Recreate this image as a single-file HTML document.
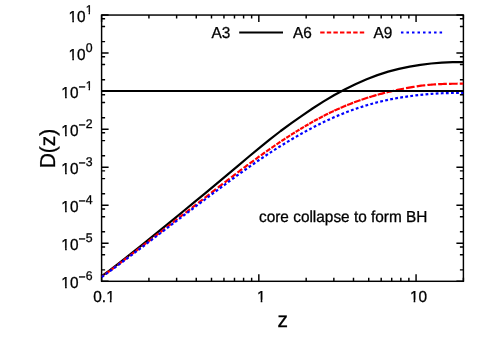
<!DOCTYPE html>
<html><head><meta charset="utf-8"><title>D(z)</title>
<style>html,body{margin:0;padding:0;background:#fff;}svg{display:block;will-change:transform;}text{text-rendering:geometricPrecision;font-kerning:none;font-family:"Liberation Sans",sans-serif;fill:#000;stroke:#000;stroke-width:0.3px;}</style>
</head><body>
<svg width="491" height="343" viewBox="0 0 491 343">
<rect x="0" y="0" width="491" height="343" fill="#fff"/>
<defs><clipPath id="c"><rect x="101.6" y="15.05" width="361.79999999999995" height="266.25"/></clipPath></defs>
<path d="M101.6,281.30h7.0M463.4,281.30h-7.0M101.6,269.85h3.5M463.4,269.85h-3.5M101.6,254.71h3.5M463.4,254.71h-3.5M101.6,246.95h3.5M463.4,246.95h-3.5M101.6,243.26h7.0M463.4,243.26h-7.0M101.6,231.81h3.5M463.4,231.81h-3.5M101.6,216.68h3.5M463.4,216.68h-3.5M101.6,208.91h3.5M463.4,208.91h-3.5M101.6,205.23h7.0M463.4,205.23h-7.0M101.6,193.78h3.5M463.4,193.78h-3.5M101.6,178.64h3.5M463.4,178.64h-3.5M101.6,170.88h3.5M463.4,170.88h-3.5M101.6,167.19h7.0M463.4,167.19h-7.0M101.6,155.74h3.5M463.4,155.74h-3.5M101.6,140.61h3.5M463.4,140.61h-3.5M101.6,132.84h3.5M463.4,132.84h-3.5M101.6,129.16h7.0M463.4,129.16h-7.0M101.6,117.71h3.5M463.4,117.71h-3.5M101.6,102.57h3.5M463.4,102.57h-3.5M101.6,94.81h3.5M463.4,94.81h-3.5M101.6,91.12h7.0M463.4,91.12h-7.0M101.6,79.67h3.5M463.4,79.67h-3.5M101.6,64.54h3.5M463.4,64.54h-3.5M101.6,56.77h3.5M463.4,56.77h-3.5M101.6,53.09h7.0M463.4,53.09h-7.0M101.6,41.64h3.5M463.4,41.64h-3.5M101.6,26.50h3.5M463.4,26.50h-3.5M101.6,18.74h3.5M463.4,18.74h-3.5M101.6,15.05h7.0M463.4,15.05h-7.0M101.60,281.3v-7.0M101.60,15.05v7.0M148.93,281.3v-3.5M148.93,15.05v3.5M176.62,281.3v-3.5M176.62,15.05v3.5M196.26,281.3v-3.5M196.26,15.05v3.5M211.50,281.3v-3.5M211.50,15.05v3.5M223.95,281.3v-3.5M223.95,15.05v3.5M234.48,281.3v-3.5M234.48,15.05v3.5M243.60,281.3v-3.5M243.60,15.05v3.5M251.64,281.3v-3.5M251.64,15.05v3.5M258.83,281.3v-7.0M258.83,15.05v7.0M306.17,281.3v-3.5M306.17,15.05v3.5M333.85,281.3v-3.5M333.85,15.05v3.5M353.50,281.3v-3.5M353.50,15.05v3.5M368.74,281.3v-3.5M368.74,15.05v3.5M381.19,281.3v-3.5M381.19,15.05v3.5M391.71,281.3v-3.5M391.71,15.05v3.5M400.83,281.3v-3.5M400.83,15.05v3.5M408.87,281.3v-3.5M408.87,15.05v3.5M416.07,281.3v-7.0M416.07,15.05v7.0M463.40,281.3v-3.5M463.40,15.05v3.5" stroke="#000" stroke-width="1.45" fill="none"/>
<rect x="101.6" y="15.05" width="361.80" height="266.25" fill="none" stroke="#000" stroke-width="1.45"/>
<text transform="translate(92.50,288.20) scale(0.97,1)" font-size="15.86" text-anchor="end">10<tspan font-size="12.67" dy="-6.9">−</tspan><tspan font-size="12.67" dy="-1.1">6</tspan></text>
<rect x="61.43" y="285.96" width="3.67" height="3.49" fill="#fff"/><rect x="66.75" y="285.96" width="3.55" height="3.49" fill="#fff"/>
<text transform="translate(92.50,250.16) scale(0.97,1)" font-size="15.86" text-anchor="end">10<tspan font-size="12.67" dy="-6.9">−</tspan><tspan font-size="12.67" dy="-1.1">5</tspan></text>
<rect x="61.43" y="247.93" width="3.67" height="3.49" fill="#fff"/><rect x="66.75" y="247.93" width="3.55" height="3.49" fill="#fff"/>
<text transform="translate(92.50,212.13) scale(0.97,1)" font-size="15.86" text-anchor="end">10<tspan font-size="12.67" dy="-6.9">−</tspan><tspan font-size="12.67" dy="-1.1">4</tspan></text>
<rect x="61.43" y="209.89" width="3.67" height="3.49" fill="#fff"/><rect x="66.75" y="209.89" width="3.55" height="3.49" fill="#fff"/>
<text transform="translate(92.50,174.09) scale(0.97,1)" font-size="15.86" text-anchor="end">10<tspan font-size="12.67" dy="-6.9">−</tspan><tspan font-size="12.67" dy="-1.1">3</tspan></text>
<rect x="61.43" y="171.86" width="3.67" height="3.49" fill="#fff"/><rect x="66.75" y="171.86" width="3.55" height="3.49" fill="#fff"/>
<text transform="translate(92.50,136.06) scale(0.97,1)" font-size="15.86" text-anchor="end">10<tspan font-size="12.67" dy="-6.9">−</tspan><tspan font-size="12.67" dy="-1.1">2</tspan></text>
<rect x="61.43" y="133.82" width="3.67" height="3.49" fill="#fff"/><rect x="66.75" y="133.82" width="3.55" height="3.49" fill="#fff"/>
<text transform="translate(92.50,98.02) scale(0.97,1)" font-size="15.86" text-anchor="end">10<tspan font-size="12.67" dy="-6.9">−</tspan><tspan font-size="12.67" dy="-1.1">1</tspan></text>
<rect x="61.43" y="95.79" width="3.67" height="3.49" fill="#fff"/><rect x="66.75" y="95.79" width="3.55" height="3.49" fill="#fff"/>
<rect x="85.49" y="88.02" width="3.12" height="3.25" fill="#fff"/><rect x="89.99" y="88.02" width="3.03" height="3.25" fill="#fff"/>
<text transform="translate(92.50,59.99) scale(0.97,1)" font-size="15.86" text-anchor="end">10<tspan font-size="12.67" dy="-8.0">0</tspan></text>
<rect x="68.61" y="57.75" width="3.67" height="3.49" fill="#fff"/><rect x="73.93" y="57.75" width="3.55" height="3.49" fill="#fff"/>
<text transform="translate(92.50,21.95) scale(0.97,1)" font-size="15.86" text-anchor="end">10<tspan font-size="12.67" dy="-8.0">1</tspan></text>
<rect x="68.61" y="19.71" width="3.67" height="3.49" fill="#fff"/><rect x="73.93" y="19.71" width="3.55" height="3.49" fill="#fff"/>
<rect x="85.49" y="11.95" width="3.12" height="3.25" fill="#fff"/><rect x="89.99" y="11.95" width="3.03" height="3.25" fill="#fff"/>
<text transform="translate(104.00,302.00) scale(0.97,1)" font-size="15.86" text-anchor="middle">0.1</text>
<rect x="106.19" y="299.76" width="3.67" height="3.49" fill="#fff"/><rect x="111.51" y="299.76" width="3.55" height="3.49" fill="#fff"/>
<text transform="translate(261.23,302.00) scale(0.97,1)" font-size="15.86" text-anchor="middle">1</text>
<rect x="257.01" y="299.76" width="3.67" height="3.49" fill="#fff"/><rect x="262.33" y="299.76" width="3.55" height="3.49" fill="#fff"/>
<text transform="translate(418.47,302.00) scale(0.97,1)" font-size="15.86" text-anchor="middle">10</text>
<rect x="409.97" y="299.76" width="3.67" height="3.49" fill="#fff"/><rect x="415.29" y="299.76" width="3.55" height="3.49" fill="#fff"/>
<text transform="translate(282.80,327.20) scale(0.97,1)" font-size="21.63" text-anchor="middle">z</text>
<text transform="translate(54.6,148.5) rotate(-90) scale(0.97,1)" text-anchor="middle" font-size="21.63">D(z)</text>
<text transform="translate(259.00,222.20) scale(0.97,1)" font-size="15.86" text-anchor="start">core collapse to form BH</text>
<text transform="translate(211.50,37.80) scale(0.97,1)" font-size="15.86" text-anchor="start">A3</text>
<path d="M239.2,32.5H283" stroke="#000" stroke-width="2.2" fill="none"/>
<text transform="translate(292.90,37.80) scale(0.97,1)" font-size="15.86" text-anchor="start">A6</text>
<path d="M320.2,32.5H364.5" stroke="#f00" stroke-width="2.2" stroke-dasharray="4.4,2.2" fill="none"/>
<text transform="translate(373.40,37.80) scale(0.97,1)" font-size="15.86" text-anchor="start">A9</text>
<path d="M400.95,32.5H442.2" stroke="#00f" stroke-width="2.2" stroke-dasharray="2.5,3.02" fill="none"/>
<g clip-path="url(#c)" fill="none" stroke-linejoin="round">
<path d="M101.60,276.17 L108.65,271.06 L119.40,262.91 L130.15,254.45 L140.90,245.83 L151.65,237.10 L162.40,228.31 L173.15,219.53 L183.90,210.75 L194.65,201.93 L205.40,193.08 L216.15,184.16 L226.90,175.14 L237.65,166.07 L248.40,157.00 L259.15,148.04 L269.90,139.31 L280.65,131.00 L291.40,123.08 L302.15,115.54 L312.90,108.24 L323.65,101.39 L334.40,95.04 L345.15,89.23 L355.90,83.94 L366.65,79.22 L377.40,75.11 L388.15,71.65 L398.90,68.82 L409.65,66.55 L420.40,64.79 L431.15,63.49 L441.90,62.63 L452.65,62.22 L463.40,62.22" stroke="#000" stroke-width="2.2"/>
<path d="M101.60,276.85L101.84,276.67L103.29,275.61L103.83,275.22M105.46,274.03L105.46,274.02L106.91,272.96L108.36,271.90L109.81,270.82L109.90,270.75M111.53,269.53L111.74,269.37L113.19,268.29L114.63,267.20L115.96,266.20M117.60,264.98L117.77,264.85L119.22,263.76L120.67,262.65L122.03,261.61M123.66,260.36L123.81,260.25L125.25,259.15L126.70,258.04L128.10,256.97M129.74,255.71L129.84,255.64L131.29,254.53L132.74,253.42L134.18,252.31L134.19,252.31M135.84,251.04L135.87,251.02L137.32,249.91L138.77,248.80L140.22,247.69L140.31,247.62M141.97,246.35L142.15,246.21L143.60,245.09L145.04,243.98L146.44,242.91M148.11,241.62L148.18,241.57L149.63,240.45L151.08,239.34L152.53,238.22L152.60,238.16M154.27,236.86L154.46,236.72L155.91,235.59L157.35,234.47L158.76,233.38M160.45,232.07L160.49,232.03L161.94,230.91L163.39,229.78L164.84,228.65L164.95,228.57M166.65,227.25L166.77,227.15L168.22,226.03L169.66,224.90L171.11,223.78L171.16,223.74M172.87,222.41L173.04,222.28L174.49,221.16L175.94,220.05L177.39,218.94L177.42,218.91M179.15,217.58L179.32,217.45L180.77,216.34L182.21,215.23L183.66,214.11L183.71,214.08M185.45,212.74L185.59,212.63L187.04,211.52L188.49,210.40L189.94,209.29L190.04,209.22M191.78,207.88L191.87,207.81L193.32,206.70L194.77,205.58L196.21,204.46L196.41,204.31M198.15,202.96L198.39,202.78L199.83,201.65L201.28,200.53L202.73,199.41L202.87,199.30M204.61,197.95L204.66,197.91L206.11,196.79L207.56,195.66L209.01,194.53L209.43,194.20M211.17,192.85L211.18,192.84L212.63,191.71L214.07,190.59L215.52,189.46L216.09,189.02M217.83,187.67L217.94,187.59L219.38,186.47L220.83,185.35L222.28,184.24L222.91,183.75M224.58,182.46L224.69,182.37L226.14,181.26L227.59,180.14L229.04,179.04L229.56,178.64M231.16,177.42L231.21,177.38L232.66,176.28L234.11,175.17L235.56,174.07L235.98,173.74M237.51,172.58L237.73,172.41L239.18,171.33L240.62,170.24L242.07,169.16L242.19,169.07M243.65,167.98L243.76,167.89L245.21,166.81L246.66,165.72L248.11,164.64L248.17,164.59M249.57,163.56L249.80,163.40L251.24,162.34L252.69,161.28L253.98,160.34M255.31,159.37L255.35,159.34L256.80,158.28L258.24,157.22L259.57,156.26M260.85,155.35L260.90,155.32L262.35,154.29L263.79,153.26L265.00,152.41M266.21,151.55L266.45,151.38L267.90,150.35L269.35,149.32L270.23,148.70M271.39,147.91L271.52,147.83L272.97,146.84L274.41,145.85L275.39,145.18M276.47,144.44L276.59,144.36L278.03,143.38L279.48,142.39L280.40,141.76M281.42,141.09L281.66,140.93L283.10,139.99L284.55,139.05L285.33,138.54M286.30,137.91L286.48,137.79L287.93,136.84L289.38,135.90L290.14,135.40M291.03,134.82L291.07,134.80L292.52,133.89L293.96,132.99L294.86,132.44M295.70,131.92L295.90,131.80L297.34,130.90L298.79,130.01L299.46,129.59M300.24,129.11L300.24,129.11L301.69,128.22L303.14,127.36L303.94,126.89M304.72,126.44L304.83,126.37L306.27,125.53L307.72,124.69L308.50,124.24M309.28,123.78L309.41,123.71L310.86,122.87L312.31,122.02L313.15,121.54M313.94,121.12L314.00,121.09L315.45,120.31L316.89,119.53L317.96,118.95M318.75,118.52L318.82,118.49L320.27,117.71L321.72,116.92L322.86,116.31M323.65,115.88L323.89,115.77L325.34,115.06L326.79,114.35L328.09,113.71M328.90,113.31L328.96,113.28L330.41,112.58L331.86,111.87L333.31,111.16L333.70,110.97M334.51,110.58L334.51,110.57L335.96,109.93L337.41,109.29L338.86,108.66L339.78,108.25M340.60,107.88L340.79,107.80L342.24,107.16L343.68,106.53L345.13,105.89L346.27,105.44M347.13,105.11L347.31,105.04L348.75,104.48L350.20,103.91L351.65,103.35L353.10,102.78L353.20,102.74M354.08,102.40L354.30,102.31L355.75,101.75L357.20,101.24L358.65,100.75L360.10,100.25L360.55,100.10M361.46,99.78L361.55,99.75L362.99,99.26L364.44,98.76L365.89,98.26L367.34,97.79L368.34,97.49M369.29,97.21L369.51,97.14L370.96,96.71L372.41,96.27L373.86,95.84L375.30,95.40L376.52,95.03M377.67,94.70L377.72,94.69L379.17,94.31L380.61,93.93L382.06,93.56L383.51,93.18L384.96,92.80L385.11,92.76M386.56,92.38L386.65,92.36L388.10,91.98L389.54,91.66L390.99,91.34L392.44,91.02L393.89,90.70L394.09,90.66M395.89,90.25L396.06,90.22L397.51,89.90L398.96,89.58L400.40,89.30L401.85,89.02L403.30,88.75L403.98,88.62M406.04,88.22L406.20,88.19L407.65,87.92L409.09,87.64L410.54,87.39L411.99,87.15L413.44,86.91L414.61,86.72M416.68,86.38L416.82,86.35L418.27,86.12L419.71,85.88L421.16,85.68L422.61,85.53L424.06,85.38L425.30,85.25M427.39,85.03L427.44,85.02L428.89,84.87L430.33,84.72L431.78,84.59L433.23,84.51L434.68,84.43L436.06,84.35M438.16,84.23L438.30,84.22L439.75,84.14L441.19,84.06L442.64,84.00L444.09,83.96L445.54,83.93L446.85,83.90M448.95,83.84L449.16,83.84L450.61,83.80L452.06,83.76L453.50,83.75L454.95,83.74L456.40,83.73L457.65,83.72M459.75,83.71L459.78,83.71L461.23,83.70L462.68,83.69L463.40,83.69" stroke="#f00" stroke-width="2.2"/>
<path d="M101.60,277.11 L108.65,272.09 L119.40,264.21 L130.15,256.13 L140.90,248.02 L151.65,239.87 L162.40,231.65 L173.15,223.45 L183.90,215.34 L194.65,207.24 L205.40,199.14 L216.15,191.05 L226.90,183.05 L237.65,175.18 L248.40,167.49 L259.15,160.02 L269.90,152.83 L280.65,145.96 L291.40,139.45 L302.15,133.31 L312.90,127.47 L323.65,122.04 L334.40,117.11 L345.15,112.68 L355.90,108.71 L366.65,105.25 L377.40,102.29 L388.15,99.81 L398.90,97.77 L409.65,96.13 L420.40,94.85 L431.15,93.90 L441.90,93.24 L452.65,92.92 L463.40,92.92" stroke="#00f" stroke-width="2.2" stroke-dasharray="2.8,2.3"/>
<path d="M101.6,91.0H463.4" stroke="#000" stroke-width="2"/>
</g>
</svg>
</body></html>
